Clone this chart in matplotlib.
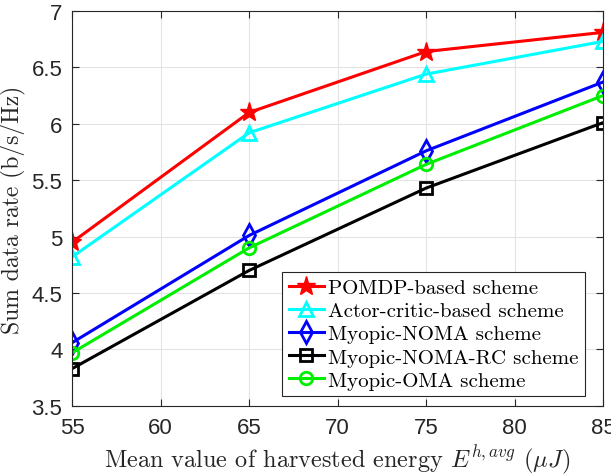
import matplotlib
matplotlib.use("Agg")
import matplotlib.pyplot as plt

# harvested energy (uJ)
energy = [55, 65, 75, 85]

pomdp = [4.95, 6.10, 6.64, 6.81]
actor_critic = [4.82, 5.92, 6.44, 6.73]
myopic_noma = [4.06, 5.01, 5.76, 6.37]
myopic_noma_rc = [3.83, 4.70, 5.43, 6.01]
myopic_oma = [3.97, 4.90, 5.64, 6.25]

labels = ["POMDP-based scheme", "Actor-critic-based scheme", "Myopic-NOMA scheme",
          "Myopic-NOMA-RC scheme", "Myopic-OMA scheme"]

plt.rcParams["mathtext.fontset"] = "cm"
plt.rcParams["axes.unicode_minus"] = False

fig = plt.figure(figsize=(6.11, 4.77), dpi=100)
ax = fig.add_axes([0.118, 0.147, 0.869, 0.828])

lw = 2.2
ax.plot(energy, pomdp, color="red", lw=lw, marker="*", ms=14, mfc="red", mec="red", label=labels[0])
ax.plot(energy, actor_critic, color="cyan", lw=lw, marker="^", ms=10, mfc="none", mew=2, label=labels[1])
ax.plot(energy, myopic_noma, color="blue", lw=lw, marker="d", ms=11, mfc="none", mew=2, label=labels[2])
ax.plot(energy, myopic_noma_rc, color="black", lw=lw, marker="s", ms=8, mfc="none", mew=2, label=labels[3])
ax.plot(energy, myopic_oma, color="#00ee00", lw=lw, marker="o", ms=9, mfc="none", mew=2, label=labels[4])

ax.set_xlim(55, 85)
ax.set_ylim(3.5, 7)
ax.set_xticks([55, 60, 65, 70, 75, 80, 85])
ax.set_yticks([3.5, 4, 4.5, 5, 5.5, 6, 6.5, 7])
ax.set_yticklabels(["3.5", "4", "4.5", "5", "5.5", "6", "6.5", "7"])
ax.grid(True, color="#e3e3e3", lw=0.8)
ax.set_axisbelow(True)
ax.tick_params(direction="in", top=True, right=True, labelsize=16, length=5,
               colors="#262626")
ax.tick_params(axis="x", pad=8)
ax.tick_params(axis="y", pad=7)
for lab in ax.get_xticklabels() + ax.get_yticklabels():
    lab.set_fontfamily("Liberation Sans")
for s in ax.spines.values():
    s.set_color("#262626")

ax.set_xlabel(r"Mean value of harvested energy $E^{h,avg}$ $(\mu J)$",
              fontsize=17.5, fontfamily="cmr10", color="#262626", labelpad=3)
ax.set_ylabel("Sum data rate (b/s/Hz)", fontsize=17, fontfamily="cmr10",
              color="#262626", labelpad=4)

leg = ax.legend(loc="lower right", bbox_to_anchor=(0.966, 0.025),
                prop={"family": "cmr10", "size": 15}, fancybox=False,
                edgecolor="#262626", framealpha=1, handlelength=1.7,
                handletextpad=0.2, borderpad=0.3, labelspacing=0.22,
                borderaxespad=0)
leg.get_frame().set_linewidth(0.8)

fig.savefig("out.png", dpi=100)
